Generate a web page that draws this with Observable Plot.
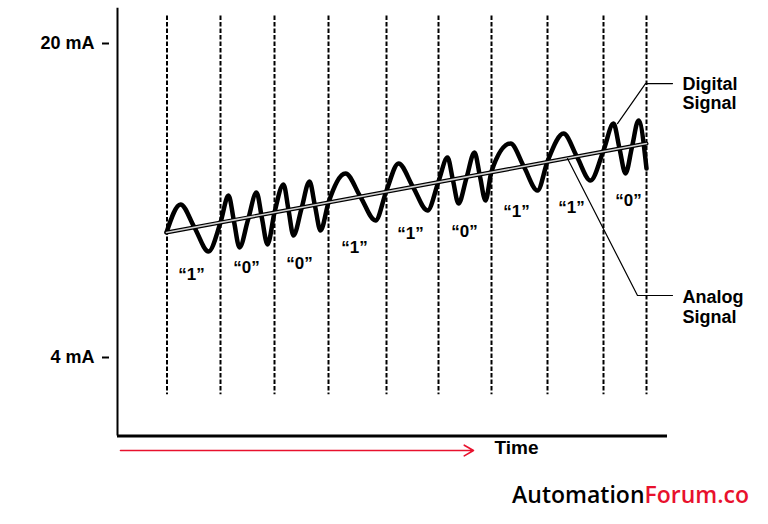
<!DOCTYPE html>
<html>
<head>
<meta charset="utf-8">
<script src="https://cdn.jsdelivr.net/npm/d3@7"></script>
<script src="https://cdn.jsdelivr.net/npm/@observablehq/plot@0.6"></script>
<style>
  html, body { margin: 0; padding: 0; background: #fff; }
  svg { display: block; }
</style>
</head>
<body>
<div id="chart"></div>
<script>
// ---- data (time in arbitrary units, level in mA) ----
const yTicks = [4, 20];
const bitBoundaries = [4.95, 10.3, 15.7, 21.1, 26.9, 32.1, 37.4, 43.0, 48.6, 52.9];
const bitLabels = ["“1”", "“0”", "“0”", "“1”", "“1”", "“0”", "“1”", "“1”", "“0”"];
const bitLabelTime = [7.4, 12.9, 18.2, 23.7, 29.3, 34.7, 39.9, 45.4, 51.1];
const bitLabelLevel = [8.23, 8.59, 8.79, 9.61, 10.32, 10.42, 11.44, 11.64, 12.00];
const dashTop = [21.4];
const dashBottom = [2.1];

const waveTime = [4.9, 6.3, 7.7, 9.1, 10.3, 11.1, 11.65, 12.2, 13.05, 13.9, 14.45, 15.0, 15.7,
  16.6, 17.1, 17.6, 18.4, 19.2, 19.75, 20.3, 21.1, 22.8, 24.3, 25.8, 26.9, 28.1, 29.55, 31.0, 32.1,
  33.0, 33.55, 34.1, 34.9, 35.7, 36.25, 36.8, 37.4, 39.3, 40.65, 42.0, 43.0, 44.6, 45.95, 47.3, 48.6,
  49.6, 50.2, 50.8, 51.45, 52.1, 52.9];
const waveLevel = [10.37, 11.80, 10.62, 9.40, 10.88, 12.25, 10.93, 9.61, 11.01, 12.41, 11.08, 9.76, 11.39,
  12.82, 11.52, 10.22, 11.59, 12.97, 11.72, 10.47, 11.90, 13.38, 12.18, 10.98, 12.51, 13.89, 12.69, 11.49, 12.97,
  14.19, 13.02, 11.85, 13.15, 14.45, 13.22, 12.00, 13.48, 14.90, 13.71, 12.51, 13.99, 15.41, 14.22, 13.02, 14.55,
  15.92, 14.65, 13.38, 14.73, 16.08, 13.63];

const analogTime = [4.9, 52.9];
const analogLevel = [10.37, 14.90];

const digitalLeaderTime = [50.0, 52.8, 55.5];
const digitalLeaderLevel = [15.92, 17.96, 17.96];
const analogLeaderTime = [45.0, 52.0, 55.5];
const analogLeaderLevel = [14.14, 7.16, 7.16];

const noteText = ["Digital", "Signal", "Analog", "Signal"];
const noteTime = [56.5, 56.5, 56.5, 56.5];
const noteLevel = [17.93, 16.96, 7.06, 6.04];

const axisTimeEnd = [55];
const axisLevelTop = [21.8];
const timeLabel = ["Time"];
const timeLabelPos = [39.9, -0.59];
const arrowTime = [0.3, 35.6];
const arrowLevel = [-0.74];
const brandParts = ["Automation", "Forum.co"];
const brandPos = [52.7, -3.03];

// ---- tables ----
const wave = waveTime.map((t, i) => ({t, level: waveLevel[i]}));
const analog = analogTime.map((t, i) => ({t, level: analogLevel[i]}));
const digitalLeader = digitalLeaderTime.map((t, i) => ({t, level: digitalLeaderLevel[i]}));
const analogLeader = analogLeaderTime.map((t, i) => ({t, level: analogLeaderLevel[i]}));
const bits = bitLabels.map((s, i) => ({s, t: bitLabelTime[i], level: bitLabelLevel[i]}));
const notes = noteText.map((s, i) => ({s, t: noteTime[i], level: noteLevel[i]}));

const RED = "#e8112d";

const chart = Plot.plot({
  width: 768,
  height: 524,
  marginLeft: 109, marginTop: 0, marginRight: 0, marginBottom: 0,
  x: {domain: [0, 55], range: [117, 667], axis: null},
  y: {domain: [4, 20], range: [357, 43]},
  style: {fontFamily: "'Liberation Sans', Arial, sans-serif", background: "white", color: "black", overflow: "visible"},
  marks: [
    // dashed bit boundaries
    Plot.ruleX(bitBoundaries, {x: d => d, y1: dashTop[0], y2: dashBottom[0], stroke: "black", strokeWidth: 2, strokeDasharray: "4.5,2"}),
    // axes
    Plot.ruleX([0], {y1: 0, y2: axisLevelTop[0], stroke: "black", strokeWidth: 2}),
    Plot.ruleY([0], {x1: 0, x2: axisTimeEnd[0], stroke: "black", strokeWidth: 3}),
    Plot.axisY(yTicks, {anchor: "left", tickFormat: d => `${d} mA`, tickSize: 7, tickPadding: 8, strokeWidth: 2, fontSize: 18, fontWeight: "bold", label: null}),
    // digital (FSK) signal
    Plot.line(wave, {x: "t", y: "level", curve: "monotone-x", stroke: "black", strokeWidth: 4.5}),
    // analog signal (outlined line)
    Plot.line(analog, {x: "t", y: "level", stroke: "black", strokeWidth: 4}),
    Plot.line(analog, {x: "t", y: "level", stroke: "#cfcfcf", strokeWidth: 1.6}),
    // leaders
    Plot.line(digitalLeader, {x: "t", y: "level", stroke: "black", strokeWidth: 1.2}),
    Plot.line(analogLeader, {x: "t", y: "level", stroke: "black", strokeWidth: 1.2}),
    Plot.text(notes, {x: "t", y: "level", text: "s", textAnchor: "start", fontSize: 18, fontWeight: "bold"}),
    // bit labels
    Plot.text(bits, {x: "t", y: "level", text: "s", fontSize: 17, fontWeight: "bold"}),
    // time label + arrow
    Plot.text(timeLabel, {x: timeLabelPos[0], y: timeLabelPos[1], text: d => d, fontSize: 19, fontWeight: "bold"}),
    Plot.arrow(arrowLevel, {x1: arrowTime[0], x2: arrowTime[1], y1: d => d, y2: d => d, stroke: RED, strokeWidth: 1.6, headLength: 10}),
    // brand
    Plot.text([brandParts[0]], {x: brandPos[0], y: brandPos[1], text: d => d, textAnchor: "end", fontSize: 23, fontWeight: 600, fontFamily: "'Open Sans', sans-serif", fill: "black"}),
    Plot.text([brandParts[1]], {x: brandPos[0], y: brandPos[1], text: d => d, textAnchor: "start", fontSize: 23, fontWeight: 600, fontFamily: "'Open Sans', sans-serif", fill: RED})
  ]
});
document.getElementById("chart").appendChild(chart);
</script>
</body>
</html>
